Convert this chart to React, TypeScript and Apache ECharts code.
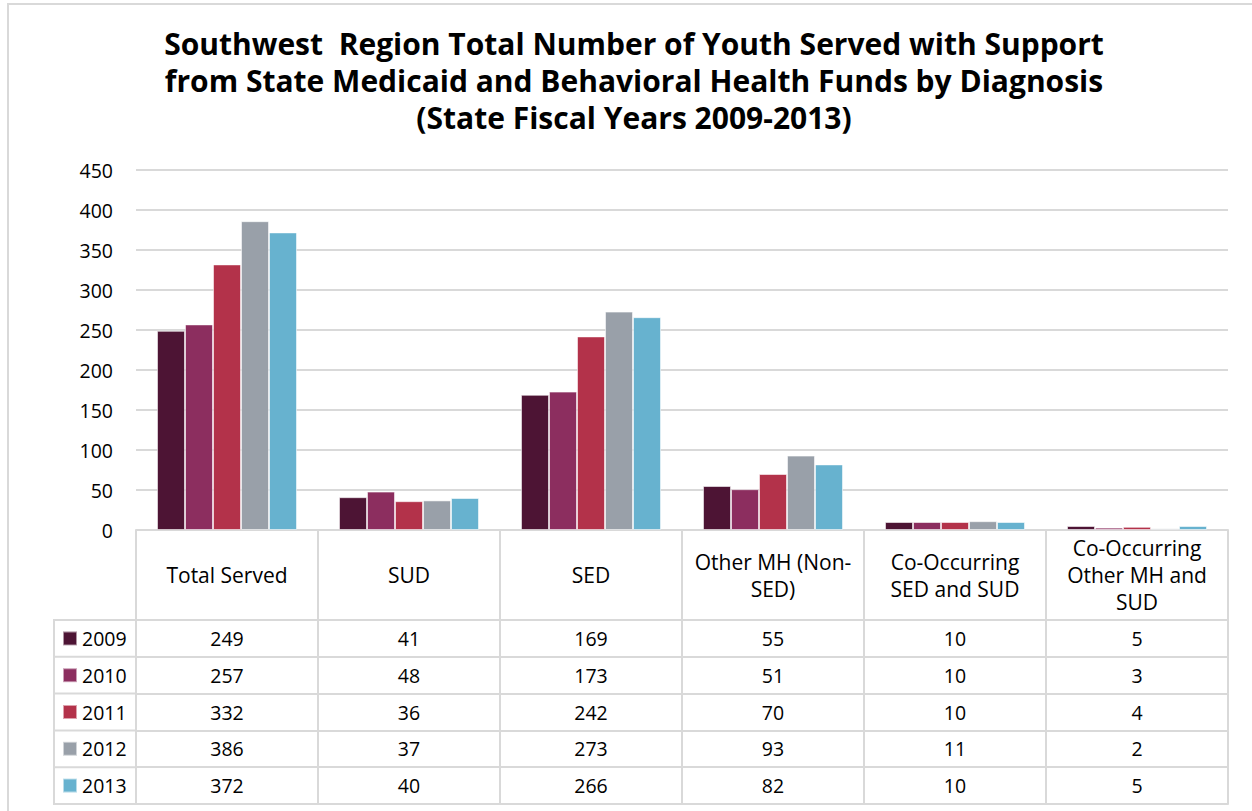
import React, { useEffect, useRef } from "react";
import * as echarts from "echarts";

const categories = [
  "Total Served",
  "SUD",
  "SED",
  "Other MH (Non-\nSED)",
  "Co-Occurring\nSED and SUD",
  "Co-Occurring\nOther MH and\nSUD",
];
const years = ["2009", "2010", "2011", "2012", "2013"];
const values2009 = [249, 41, 169, 55, 10, 5];
const values2010 = [257, 48, 173, 51, 10, 3];
const values2011 = [332, 36, 242, 70, 10, 4];
const values2012 = [386, 37, 273, 93, 11, 2];
const values2013 = [372, 40, 266, 82, 10, 5];
const seriesValues = [values2009, values2010, values2011, values2012, values2013];
const yTicks = { min: 0, max: 450, interval: 50 };

const colors = ["#4D1434", "#8C2E5F", "#B3324A", "#99A0A9", "#67B2CF"];
const FONT = "Open Sans";
const LINE = "#d9d9d9";

const W = 1252;
const H = 811;
const GRID_LEFT = 136;
const GRID_RIGHT = 1228;
const GRID_TOP = 170;
const AXIS_Y = 530;
const HEADER_H = 90;
const ROW_H = 36.8;
const LEFT_COL_X = 54;

export default function App() {
  const ref = useRef<HTMLDivElement>(null);
  useEffect(() => {
    if (!ref.current) return;
    const chart = echarts.init(ref.current, undefined, { renderer: "svg" });

    const tableTop = AXIS_Y + HEADER_H;
    const tableBottom = tableTop + ROW_H * years.length;

    const rowAxes = years.map((y, i) => ({
      type: "category",
      position: "bottom",
      gridIndex: 0,
      offset: HEADER_H + ROW_H * i,
      data: seriesValues[i].map((v) => String(v)),
      axisLine: { show: true, lineStyle: { color: LINE, width: 2 } },
      axisTick: { show: true, length: ROW_H, lineStyle: { color: LINE, width: 2 } },
      axisLabel: {
        interval: 0,
        margin: ROW_H / 2,
        verticalAlign: "middle",
        color: "#000",
        fontFamily: FONT,
        fontSize: 19.5,
      },
      splitLine: { show: false },
    }));
    const bottomAxis = {
      type: "category",
      position: "bottom",
      gridIndex: 0,
      offset: HEADER_H + ROW_H * years.length,
      data: categories.map(() => ""),
      axisLine: { show: true, lineStyle: { color: LINE, width: 2 } },
      axisTick: { show: false },
      axisLabel: { show: false },
    };

    const leftLines: any[] = [];
    for (let i = 0; i <= years.length; i++) {
      const y = tableTop + ROW_H * i;
      leftLines.push({
        type: "line",
        shape: { x1: LEFT_COL_X, y1: y, x2: GRID_LEFT, y2: y },
        style: { stroke: LINE, lineWidth: 2 },
        silent: true,
      });
    }
    leftLines.push({
      type: "line",
      shape: { x1: LEFT_COL_X, y1: tableTop - 1, x2: LEFT_COL_X, y2: tableBottom + 1 },
      style: { stroke: LINE, lineWidth: 2 },
      silent: true,
    });

    const legends = years.map((y, i) => ({
      orient: "horizontal",
      left: 62,
      top: tableTop + ROW_H * (i + 0.5) - 10,
      padding: 0,
      itemWidth: 14,
      itemHeight: 14,
      itemGap: 0,
      icon: "rect",
      selectedMode: false,
      textStyle: { fontFamily: FONT, fontSize: 19.5, color: "#000", lineHeight: 20 },
      data: [y],
    }));

    const option: any = {
      animation: false,
      backgroundColor: "#fff",
      title: {
        text:
          "Southwest  Region Total Number of Youth Served with Support\nfrom State Medicaid and Behavioral Health Funds by Diagnosis\n(State Fiscal Years 2009-2013)",
        left: 629,
        textAlign: "center",
        top: 20,
        textStyle: {
          fontFamily: FONT,
          fontWeight: "bold",
          fontSize: 30,
          lineHeight: 37,
          color: "#000",
        },
      },
      legend: legends,
      grid: {
        left: GRID_LEFT,
        right: W - GRID_RIGHT,
        top: GRID_TOP,
        bottom: H - AXIS_Y,
        containLabel: false,
        outerBoundsMode: "none",
      },
      xAxis: [
        {
          type: "category",
          position: "bottom",
          data: categories,
          axisLine: { show: true, lineStyle: { color: LINE, width: 2 } },
          axisTick: { show: true, length: HEADER_H, lineStyle: { color: LINE, width: 2 } },
          axisLabel: {
            interval: 0,
            margin: HEADER_H / 2,
            verticalAlign: "middle",
            color: "#000",
            fontFamily: FONT,
            fontSize: 21,
            lineHeight: 27,
          },
        },
        ...rowAxes,
        bottomAxis,
      ],
      yAxis: {
        type: "value",
        min: yTicks.min,
        max: yTicks.max,
        interval: yTicks.interval,
        axisLine: { show: false },
        axisTick: { show: false },
        axisLabel: { color: "#000", fontFamily: FONT, fontSize: 19.5, margin: 23 },
        splitLine: { lineStyle: { color: LINE, width: 2 } },
      },
      series: years.map((y, i) => ({
        name: y,
        type: "bar",
        xAxisIndex: 0,
        data: seriesValues[i],
        barWidth: 28,
        barGap: "0%",
        itemStyle: {
          color: colors[i],
          borderColor: "rgba(255,255,255,0.55)",
          borderWidth: 1,
        },
      })),
      color: colors,
      graphic: [
        {
          type: "rect",
          shape: { x: 8, y: 4, width: W + 20, height: H + 20 },
          style: { fill: "none", stroke: LINE, lineWidth: 2 },
          silent: true,
          z: 100,
        },
        ...leftLines,
      ],
    };
    chart.setOption(option);
    return () => chart.dispose();
  }, []);
  return (
    <div
      ref={ref}
      style={{ position: "absolute", left: 0, top: 0, width: W, height: H }}
    />
  );
}
